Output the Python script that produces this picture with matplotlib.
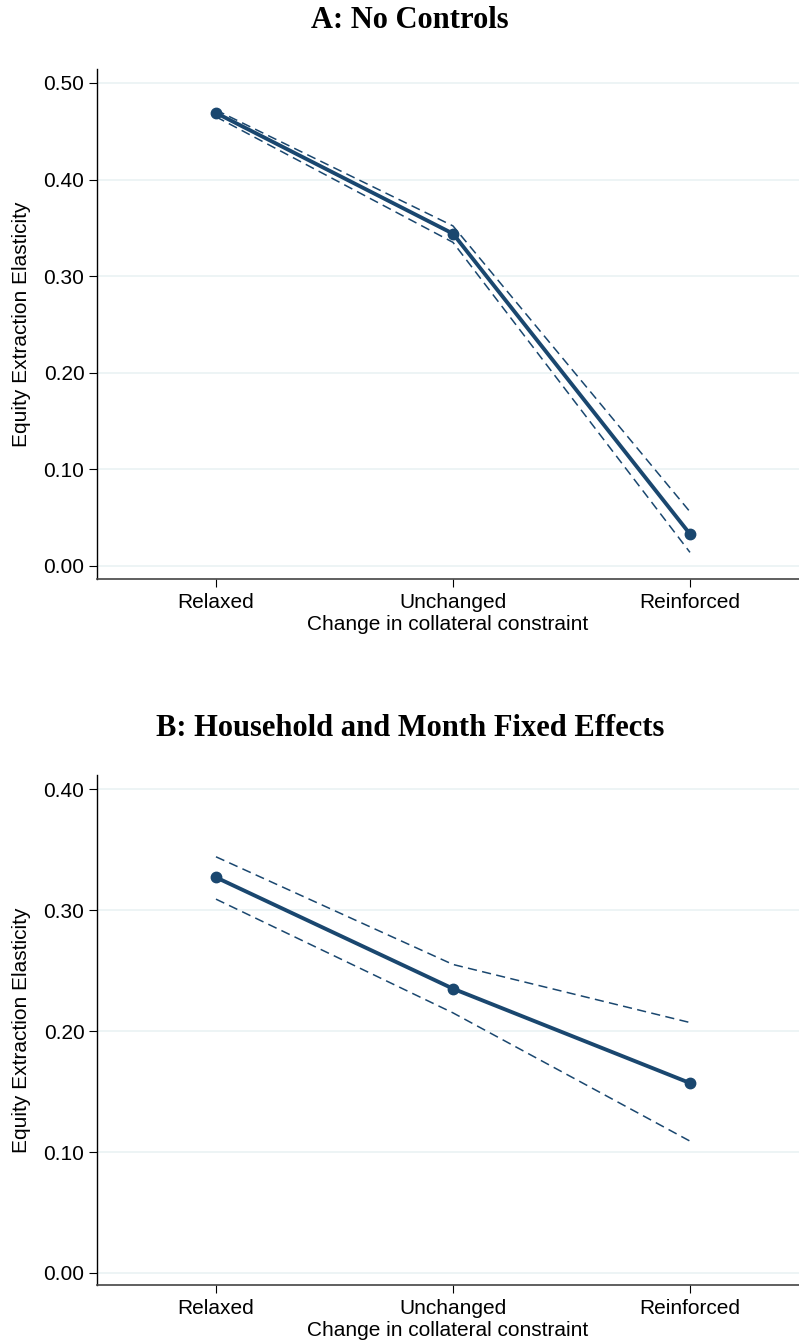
import matplotlib.pyplot as plt

categories = ["Relaxed", "Unchanged", "Reinforced"]

# panel A: no controls
a_est = [0.469, 0.344, 0.033]
a_hi = [0.472, 0.352, 0.056]
a_lo = [0.465, 0.335, 0.014]
a_ticks = [0.0, 0.1, 0.2, 0.3, 0.4, 0.5]

# panel B: household and month fixed effects
b_est = [0.327, 0.235, 0.157]
b_hi = [0.344, 0.255, 0.207]
b_lo = [0.309, 0.215, 0.109]
b_ticks = [0.0, 0.1, 0.2, 0.3, 0.4]

navy = "#1a476f"
grid_col = "#eaf2f3"

plt.rcParams["font.family"] = ["Liberation Sans", "DejaVu Sans"]

fig = plt.figure(figsize=(7.99, 13.42), dpi=100)


def panel(rect, title, est, hi, lo, ticks, ylim, title_y):
    ax = fig.add_axes(rect)
    x = [1, 2, 3]
    ax.plot(x, hi, color=navy, lw=1.1, ls=(0, (6, 3.5)))
    ax.plot(x, lo, color=navy, lw=1.1, ls=(0, (6, 3.5)))
    ax.plot(x, est, color=navy, lw=2.8, marker="o", ms=7.5, zorder=3)
    ax.set_xlim(0.498, 3.46)
    ax.set_ylim(*ylim)
    ax.set_yticks(ticks)
    ax.set_yticklabels(["%.2f" % t for t in ticks])
    ax.set_xticks(x)
    ax.set_xticklabels(categories)
    ax.grid(axis="y", color=grid_col, lw=1.2)
    ax.set_axisbelow(True)
    for s in ["top", "right"]:
        ax.spines[s].set_visible(False)
    ax.spines["left"].set_color("black")
    ax.spines["bottom"].set_color("#444444")
    ax.spines["left"].set_linewidth(1.0)
    ax.spines["bottom"].set_linewidth(1.2)
    ax.tick_params(axis="both", labelsize=15, length=6, width=0.8, pad=3)
    ax.tick_params(axis="x", pad=4)
    ax.set_ylabel("Equity Extraction Elasticity", fontsize=15, labelpad=9)
    ax.set_xlabel("Change in collateral constraint", fontsize=15, labelpad=2)
    fig.text(0.513, title_y, title, ha="center", va="center", fontsize=22,
             fontweight="bold", family=["Liberation Serif", "DejaVu Serif"])
    return ax


panel([0.1214, 0.5686, 0.8786, 0.38], "A: No Controls", a_est, a_hi, a_lo,
      a_ticks, (-0.0135, 0.5145), 1 - 21 / 1342)
panel([0.1214, 0.0425, 0.8786, 0.38], "B: Household and Month Fixed Effects",
      b_est, b_hi, b_lo, b_ticks, (-0.0099, 0.4116), 1 - 729 / 1342)

fig.savefig("out.png", dpi=100)
